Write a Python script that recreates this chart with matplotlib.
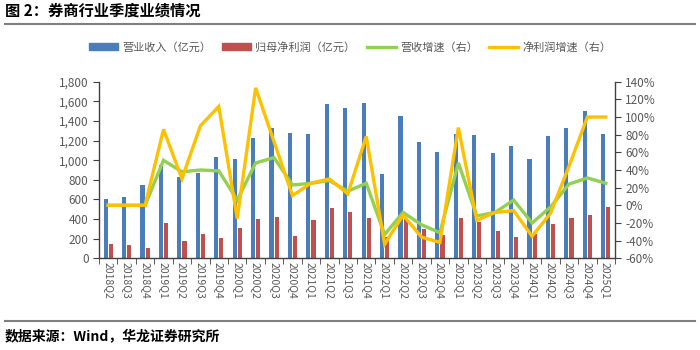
import matplotlib.pyplot as plt
from matplotlib.lines import Line2D
from matplotlib.patches import Patch
import numpy as np

plt.rcParams['font.family'] = ['Noto Sans CJK SC', 'DejaVu Sans']

quarters = ["2018Q2", "2018Q3", "2018Q4", "2019Q1", "2019Q2", "2019Q3", "2019Q4",
            "2020Q1", "2020Q2", "2020Q3", "2020Q4", "2021Q1", "2021Q2", "2021Q3",
            "2021Q4", "2022Q1", "2022Q2", "2022Q3", "2022Q4", "2023Q1", "2023Q2",
            "2023Q3", "2023Q4", "2024Q1", "2024Q2", "2024Q3", "2024Q4", "2025Q1"]
revenue = [601, 621, 747, 951, 832, 866, 1036, 1009, 1223, 1324, 1273, 1263, 1576, 1528,
           1579, 863, 1447, 1182, 1087, 1265, 1257, 1070, 1148, 1012, 1250, 1324, 1504, 1263]
net_profit = [146, 132, 102, 363, 173, 248, 211, 312, 397, 418, 231, 387, 516, 469,
              408, 220, 400, 299, 238, 408, 374, 278, 221, 250, 346, 414, 441, 526]
rev_growth = [0, 0, 0, 51, 38, 40, 39, 6, 48, 54, 23, 25, 28, 16,
              25, -33, -8, -22, -31, 48, -12, -8, 6, -20, -2, 24, 31, 25]
profit_growth = [0, 0, 0, 86, 30, 90, 112, -15, 133, 72, 11, 25, 30, 13,
                 78, -44, -11, -36, -42, 88, -17, -8, -6, -35, -9, 44, 100, 100]

blue = "#4a7ebb"
red = "#c0504d"
green = "#92d050"
yellow = "#ffc000"
grey = "#595959"
axis_c = "#404040"

fig = plt.figure(figsize=(7, 3.5), dpi=100)
ax = fig.add_axes([99 / 700, 1 - 258.3 / 350, 516 / 700, 176.6 / 350])
ax2 = ax.twinx()

x = np.arange(len(quarters))
w = 0.22
ax.bar(x - 0.14, revenue, w, color=blue, zorder=2)
ax.bar(x + 0.14, net_profit, w, color=red, zorder=2)

ax2.plot(x, rev_growth, color=green, lw=2.4, solid_joinstyle='miter', zorder=3)
ax2.plot(x, profit_growth, color=yellow, lw=2.4, solid_joinstyle='miter', zorder=4)

ax.set_xlim(-0.5, len(quarters) - 0.5)
ax.set_ylim(0, 1800)
ax.set_yticks(range(0, 1801, 200))
ax.set_yticklabels([f"{v:,}" for v in range(0, 1801, 200)])
ax2.set_ylim(-60, 140)
ax2.set_yticks(range(-60, 141, 20))
ax2.set_yticklabels([f"{v}%" for v in range(-60, 141, 20)])

ax.set_xticks(x)
ax.set_xticklabels(quarters, rotation=-90, fontsize=7.5, color=grey)
ax.set_xticks(np.arange(-0.5, len(quarters), 1), minor=True)
ax.tick_params(axis='x', which='major', length=0, pad=3)
ax.tick_params(axis='x', which='minor', length=4, color=axis_c, direction='out')
ax.tick_params(axis='y', labelsize=8.5, labelcolor=grey, length=4, color=axis_c)
ax2.tick_params(axis='y', labelsize=8.5, labelcolor=grey, length=4, color=axis_c)

for a in (ax, ax2):
    a.spines['top'].set_visible(False)
    for s in ('left', 'right', 'bottom'):
        a.spines[s].set_color(axis_c)
        a.spines[s].set_linewidth(1)
ax.spines['right'].set_visible(False)
ax2.spines['left'].set_visible(False)
ax2.spines['bottom'].set_visible(False)

handles = [Patch(color=blue), Patch(color=red),
           Line2D([], [], color=green, lw=2.4), Line2D([], [], color=yellow, lw=2.4)]
labels = ["营业收入（亿元）", "归母净利润（亿元）", "营收增速（右）", "净利润增速（右）"]
fig.legend(handles, labels, loc='center', bbox_to_anchor=(0.5, 1 - 47 / 350), ncol=4,
           frameon=False, fontsize=8, labelcolor=grey, handlelength=2.6,
           handleheight=0.6, columnspacing=1.0, handletextpad=0.4)

fig.text(5 / 700, 1 - 11 / 350, "图 2：券商行业季度业绩情况", fontsize=11, fontweight='bold',
         va='center', ha='left')
fig.add_artist(Line2D([5 / 700, 695 / 700], [1 - 24 / 350] * 2, color="#7f7f7f", lw=1.5))
fig.add_artist(Line2D([5 / 700, 695 / 700], [1 - 321 / 350] * 2, color="#7f7f7f", lw=1.5))
fig.text(5 / 700, 1 - 337 / 350, "数据来源：Wind，华龙证券研究所", fontsize=10, fontweight='bold',
         va='center', ha='left')

fig.savefig("out.png", dpi=100)
